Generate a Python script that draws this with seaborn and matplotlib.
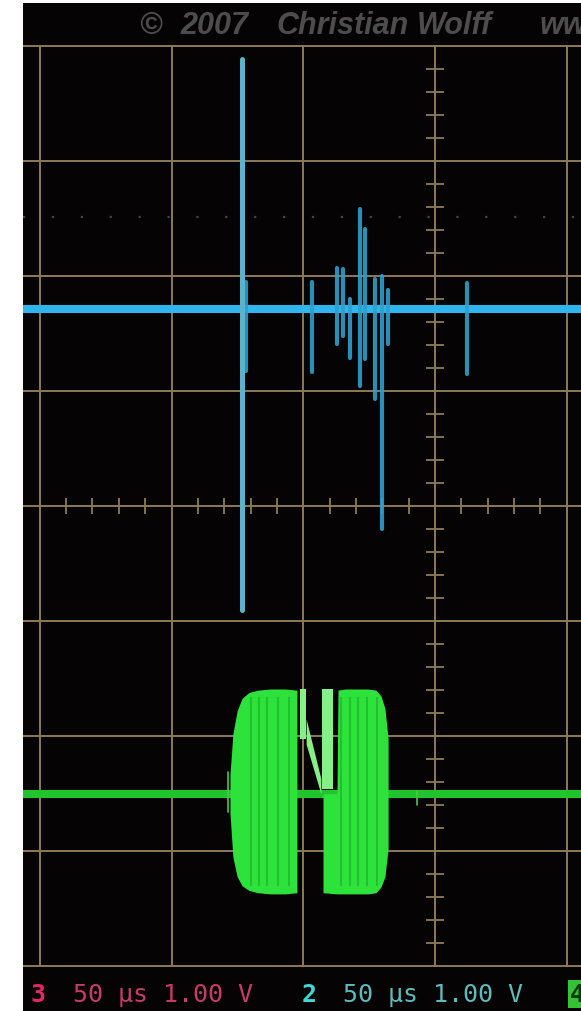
import numpy as np
import pandas as pd
import matplotlib
matplotlib.use("Agg")
import matplotlib.pyplot as plt
import seaborn as sns

# ---- scope settings -------------------------------------------------------
time_per_div = 50        # µs per horizontal division
volts_per_div = 1.0      # V per vertical division
screen_t = [-250, 250]   # full sweep (µs), the view is a crop of it
ch2_offset = 1.71        # channel 2 ground level (div)
ch3_offset = -2.50       # channel 3 ground level (div)
trigger_level = 2.51     # dotted trigger marker (div)

# ---- channel 2 (cyan): transmit pulse and echo strokes --------------------
ch2_pulse_t = -73.4
ch2_pulse_lo = -2.61
ch2_pulse_hi = 2.17
ch2_echo_t = [-71.7, -46.7, -37.2, -34.9, -32.3, -28.5, -26.6, -22.8, -20.1, -17.8, 12.1]
ch2_echo_lo = [-0.54, -0.55, -0.30, -0.23, -0.42, -0.67, -0.43, -0.78, -1.91, -0.30, -0.56]
ch2_echo_hi = [0.24, 0.24, 0.36, 0.35, 0.09, 0.87, 0.70, 0.26, 0.29, 0.17, 0.23]

# ---- channel 3 (green): modulated burst envelope ---------------------------
ch3_left_t = [-77.8, -76.7, -75.1, -73.2, -70.6, -67.2, -62.6, -56.9, -52.4]
ch3_left_hi = [0.17, 0.52, 0.72, 0.83, 0.88, 0.90, 0.91, 0.91, 0.90]
ch3_left_lo = [-0.17, -0.55, -0.72, -0.80, -0.84, -0.86, -0.87, -0.87, -0.86]

ch3_right_t = [-42.5, -37.2, -36.8, -34.2, -30.4, -25.4, -22.4, -20.5, -19.0, -17.8]
ch3_right_hi = [0.00, 0.00, 0.90, 0.91, 0.91, 0.91, 0.90, 0.85, 0.74, 0.48]
ch3_right_lo = [-0.86, -0.87, -0.87, -0.87, -0.87, -0.87, -0.86, -0.81, -0.72, -0.48]

ch3_mid_t = [-51.2, -49.0, -48.9, -43.3, -42.9, -38.7]
ch3_mid_hi = [0.91, 0.91, 0.65, 0.13, 0.91, 0.91]
ch3_mid_lo = [0.48, 0.48, 0.43, 0.00, 0.04, 0.04]

# darker carrier streaks inside the burst
ch3_streak_t = [-70.0, -66.9, -63.8, -59.6, -55.4, -35.7, -32.3, -29.2, -25.8, -22.0]

ch3_tick_t = [-78.6, -6.8]
ch3_tick_lo = [-0.16, -0.10]
ch3_tick_hi = [0.19, 0.02]

# ---- figure ---------------------------------------------------------------
sns.set_style("dark")
W, H = 581, 1012
fig = plt.figure(figsize=(W / 100, H / 100), dpi=100, facecolor="white")
ax = fig.add_axes([23 / W, 0, (W - 23) / W, (H - 4) / H])
ax.set_facecolor("#050303")
for s in ax.spines.values():
    s.set_visible(False)
ax.set_xticks([])
ax.set_yticks([])

px_t = time_per_div / 131.75   # µs per pixel
px_v = 1 / 115.1               # div per pixel
ax.set_xlim((23 - 435) * px_t, (581 - 435) * px_t)
ax.set_ylim((507 - 1012) * px_v, (507 - 4) * px_v)

# graticule
grid_c = "#8d7b56"
major_t = [k * time_per_div for k in range(-5, 6)]
major_v = [k * volts_per_div for k in range(-4, 5)]
ax.vlines(major_t, -4, 4, color=grid_c, lw=1.4, zorder=1)
ax.hlines(major_v, screen_t[0], screen_t[1], color=grid_c, lw=1.4, zorder=1)

minor_v = [k / 5 for k in range(-20, 21) if k % 5]
ax.hlines(minor_v, -9 * px_t, 9 * px_t, color=grid_c, lw=1.3, zorder=1)
minor_t = [k * time_per_div / 5 for k in range(-25, 26) if k % 5]
ax.vlines(minor_t, -8 * px_v, 8 * px_v, color=grid_c, lw=1.3, zorder=1)

# trigger level marker
ax.axhline(trigger_level, color="#444444", lw=1.6, ls=(0, (1, 12)), zorder=1)

# ---- channel 3 trace ------------------------------------------------------
green = "#2ee23c"
sns.lineplot(x=screen_t, y=[ch3_offset, ch3_offset], color="#22c42e", lw=5.8,
             estimator=None, ax=ax, zorder=3)
ax.fill_between(ch3_left_t, np.add(ch3_left_lo, ch3_offset),
                np.add(ch3_left_hi, ch3_offset), color=green, lw=0, zorder=3)
ax.fill_between(ch3_right_t, np.add(ch3_right_lo, ch3_offset),
                np.add(ch3_right_hi, ch3_offset), color=green, lw=0, zorder=3)
for i in range(0, len(ch3_mid_t), 2):
    ax.fill_between(ch3_mid_t[i:i + 2], np.add(ch3_mid_lo[i:i + 2], ch3_offset),
                    np.add(ch3_mid_hi[i:i + 2], ch3_offset),
                    color="#86f088", lw=0, zorder=4)
ax.vlines(ch3_streak_t, ch3_offset - 0.80, ch3_offset + 0.84,
          color="#18a426", lw=1.1, alpha=0.7, zorder=4)
tick_df = pd.DataFrame({
    "t": np.repeat(ch3_tick_t, 2),
    "v": np.ravel(np.column_stack([ch3_tick_lo, ch3_tick_hi])) + ch3_offset,
    "id": np.repeat(np.arange(len(ch3_tick_t)), 2),
})
sns.lineplot(data=tick_df, x="t", y="v", units="id", estimator=None, sort=False,
             color="#46c84a", lw=1.2, ax=ax, zorder=3, legend=False)

# ---- channel 2 trace ------------------------------------------------------
sns.lineplot(x=screen_t, y=[ch2_offset, ch2_offset], color="#30b6ee", lw=5.8,
             estimator=None, ax=ax, zorder=5)
echo_df = pd.DataFrame({
    "t": np.repeat(ch2_echo_t, 2),
    "v": np.ravel(np.column_stack([ch2_echo_lo, ch2_echo_hi])) + ch2_offset,
    "id": np.repeat(np.arange(len(ch2_echo_t)), 2),
})
sns.lineplot(data=echo_df, x="t", y="v", units="id", estimator=None, sort=False,
             color="#2f9fcc", lw=3.0, alpha=0.9, ax=ax, zorder=5, legend=False)
pulse_df = pd.DataFrame({"t": [ch2_pulse_t, ch2_pulse_t],
                         "v": [ch2_pulse_lo + ch2_offset, ch2_pulse_hi + ch2_offset]})
sns.lineplot(data=pulse_df, x="t", y="v", estimator=None, sort=False,
             color="#5cb2c8", lw=3.6, ax=ax, zorder=6)

# ---- screen text ----------------------------------------------------------
def fx(x):
    return x / W


def fy(y):
    return 1 - y / H


wm = dict(color="#4d4d4d", fontsize=22, fontstyle="italic", fontweight="bold",
          family="Liberation Sans", va="center", ha="left")
fig.text(fx(139), fy(26), "©", **wm)
fig.text(fx(180), fy(26), "2007", **wm)
fig.text(fx(277), fy(26), "Christian", **wm)
fig.text(fx(417), fy(26), "Wolff", **wm)
fig.text(fx(540), fy(26), "www.radartutorial.eu", **wm)

mono = dict(family="DejaVu Sans Mono", fontsize=18, va="center", ha="left")
fig.text(fx(31), fy(995), "3", color="#e8266c", fontweight="bold", **mono)
fig.text(fx(73), fy(995), "50 µs 1.00 V", color="#c83a6a", **mono)
fig.text(fx(302), fy(995), "2", color="#3ed8d8", fontweight="bold", **mono)
fig.text(fx(343), fy(995), "50 µs 1.00 V", color="#5cbcbc", **mono)
fig.text(fx(570), fy(995), "4", color="#0a3a0a", fontweight="bold",
         bbox=dict(facecolor="#36c236", edgecolor="none", pad=1.5), **mono)

fig.savefig("out.png", dpi=100, facecolor="white")
